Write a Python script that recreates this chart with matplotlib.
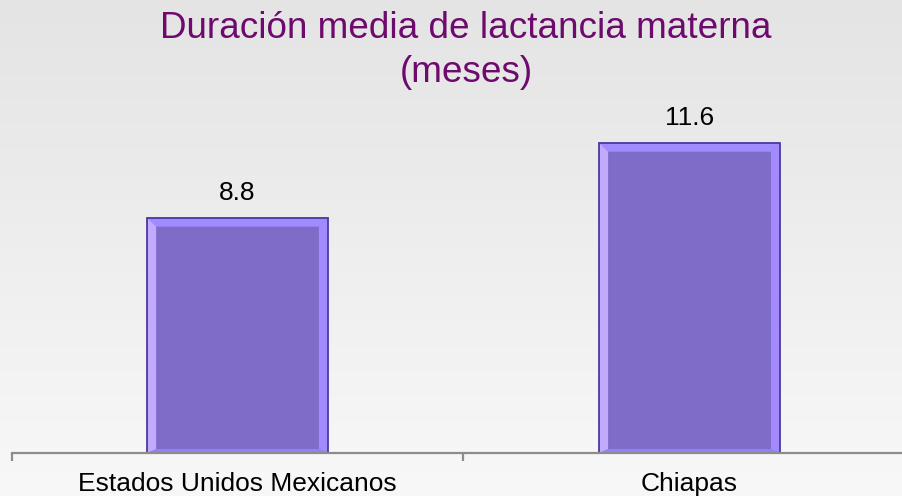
import numpy as np
import matplotlib
matplotlib.use("Agg")
import matplotlib.pyplot as plt
from matplotlib.patches import Polygon
from matplotlib.transforms import IdentityTransform
from matplotlib.colors import LinearSegmentedColormap

categories = ["Estados Unidos Mexicanos", "Chiapas"]
values = [8.8, 11.6]
value_labels = ["8.8", "11.6"]
title_lines = ["Duración media de lactancia materna", "(meses)"]

W, H, DPI = 902, 496, 100
plt.rcParams['font.family'] = ['Liberation Sans', 'DejaVu Sans']

fig = plt.figure(figsize=(W / DPI, H / DPI), dpi=DPI)

# background gradient
bg = fig.add_axes([0, 0, 1, 1], zorder=-10)
grad = np.linspace(0, 1, 256).reshape(-1, 1)
cmap = LinearSegmentedColormap.from_list("bg", ["#e4e4e4", "#f8f8f8"])
bg.imshow(grad, aspect='auto', cmap=cmap, extent=[0, 1, 0, 1], origin='upper')
bg.axis('off')

ax_left = 11.5 / W
ax_bottom = (H - 453) / H
ax_w = 904 / W
ax_h = 13 * 26.75 / H
ax = fig.add_axes([ax_left, ax_bottom, ax_w, ax_h])
ax.patch.set_alpha(0)
x = np.arange(len(categories))
ax.set_xlim(-0.5, len(categories) - 0.5)
ax.set_ylim(0, 13)

face = "#7f6cc8"
bars = ax.bar(x, values, width=0.4, color=face, edgecolor="none", zorder=2)

for sp in ["left", "top", "right"]:
    ax.spines[sp].set_visible(False)
ax.spines["bottom"].set_color("#8c8c8c")
ax.spines["bottom"].set_linewidth(1.6)
ax.spines["bottom"].set_zorder(6)
ax.set_yticks([])
ax.set_xticks(np.arange(-0.5, len(categories), 1.0))
ax.set_xticklabels([])
ax.tick_params(axis='x', which='major', length=6, width=1.6, color="#8c8c8c", direction='out')
ax.set_xticks(x, minor=True)
ax.set_xticklabels(categories, minor=True, fontsize=19, color="#000000")
ax.tick_params(axis='x', which='minor', length=0, pad=14)

fig.canvas.draw()
bw = 9.0
bb = 4.0
for b in bars:
    x0, y0 = b.get_x(), b.get_y()
    x1, y1 = x0 + b.get_width(), y0 + b.get_height()
    (px0, py0) = ax.transData.transform((x0, y0))
    (px1, py1) = ax.transData.transform((x1, y1))
    ix0, ix1, iy0, iy1 = px0 + bw, px1 - bw, py0 + bb, py1 - bw
    polys = [
        ([(px0, py1), (px1, py1), (ix1, iy1), (ix0, iy1)], "#a18cff"),  # top
        ([(px0, py0), (px1, py0), (ix1, iy0), (ix0, iy0)], "#9580f2"),  # bottom
        ([(px0, py0), (px0, py1), (ix0, iy1), (ix0, iy0)], "#c2abff"),  # left
        ([(px1, py0), (px1, py1), (ix1, iy1), (ix1, iy0)], "#a38bff"),  # right
    ]
    for pts, c in polys:
        ax.add_patch(Polygon(pts, closed=True, facecolor=c, edgecolor='none',
                             transform=IdentityTransform(), zorder=3))
    ax.add_patch(Polygon([(px0, py0), (px0, py1), (px1, py1), (px1, py0)], closed=True,
                         facecolor='none', edgecolor="#4b3a9e", linewidth=1.3,
                         transform=IdentityTransform(), zorder=4))

for xi, v, lab in zip(x, values, value_labels):
    ax.annotate(lab, (xi, v), xytext=(0, 12.5), textcoords='offset points',
                ha='center', va='baseline', fontsize=19, color="#000000", zorder=5)

fig.text(466 / W, 1 - 28 / H, title_lines[0], ha='center', va='center',
         fontsize=26.6, color="#6e0a6e")
fig.text(466 / W, 1 - 72 / H, title_lines[1], ha='center', va='center',
         fontsize=26.6, color="#6e0a6e")

fig.savefig("out.png", dpi=DPI)
